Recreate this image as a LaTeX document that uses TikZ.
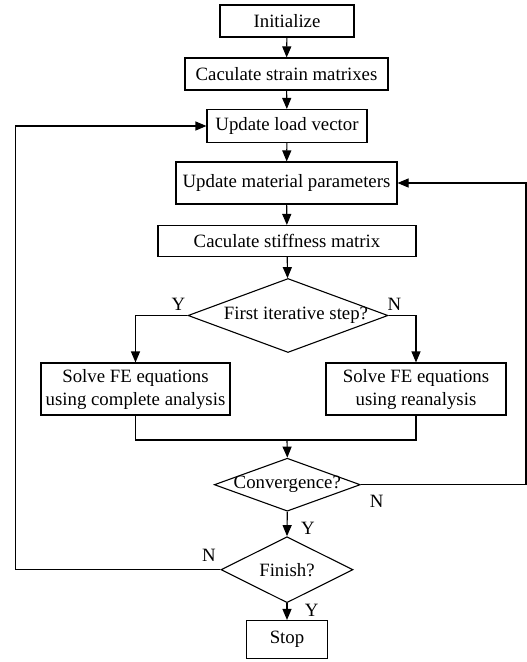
\documentclass[tikz,border=0pt]{standalone}
\usepackage{fontspec}
\setmainfont{Liberation Serif}
\usepackage{tikz}
\usetikzlibrary{shapes.geometric, arrows.meta}

\begin{document}
\begin{tikzpicture}[
        x=1pt, y=-1pt,
        font=\fontsize{18.8pt}{23pt}\selectfont,
        line width=1.1pt,
        box/.style={draw, inner sep=0pt, align=center},
        decide/.style={diamond, draw, inner sep=0pt},
        yn/.style={inner sep=0pt},
        flow/.style={-{Triangle[length=11pt, width=9pt]}},
      ]
        \useasboundingbox (0,0) rectangle (527,662);
        % main column
        \node[box, minimum width=134pt, minimum height=32pt] (init) at (287,21) {Initialize};
        \node[box, minimum width=203pt, minimum height=32pt] (strain) at (286.5,74) {Caculate strain matrixes};
        \node[box, minimum width=160pt, minimum height=33pt] (load) at (287,126) {Update load vector};
        \node[box, minimum width=221pt, minimum height=42pt] (mat) at (286.5,183) {Update material parameters};
        \node[box, minimum width=258pt, minimum height=31pt] (stiff) at (287,241) {Caculate stiffness matrix};
        \node[decide, minimum width=200pt, minimum height=74pt,
              label={[xshift=8pt]center:First iterative step?}] (first) at (288,315.5) {};
        % the two solvers
        \node[box, minimum width=189pt, minimum height=52pt] (full) at (135.5,389) {Solve FE equations\\using complete analysis};
        \node[box, minimum width=180pt, minimum height=52pt] (rean) at (416,389) {Solve FE equations\\using reanalysis};
        \coordinate (merge) at (287,440);
        \node[decide, minimum width=146pt, minimum height=53pt,
              label=center:Convergence?] (conv) at (287.3,484.7) {};
        \node[decide, minimum width=132pt, minimum height=66pt,
              label=center:Finish?] (fin) at (287,569.7) {};
        \node[box, minimum width=81pt, minimum height=38pt] (stop) at (287,639.5) {Stop};
        % loop corners
        \coordinate (rgt) at (526,484.7);
        \coordinate (lft) at (15.7,569.7);

        \draw[flow] (init) -- (strain);
        \draw[flow] (strain) -- (load);
        \draw[flow] (load) -- (mat);
        \draw[flow] (mat) -- (stiff);
        \draw[flow] (stiff) -- (first);
        \draw[flow] (first.west) -| (full.north);
        \draw[flow] (first.east) -| (rean.north);
        \draw (full.south) |- (merge) -| (rean.south);
        \draw[flow] (merge) -- (conv.north);
        \draw[flow] (conv.south) -- (fin.north);
        \draw[flow] (fin.south) -- (stop.north);
        \draw[flow] (conv.east) -- (rgt) |- (mat.east);
        \draw[flow] (fin.west) -- (lft) |- (load.west);

        % branch marks
        \node[yn] (y1) at (178.3,304) {Y};
        \node[yn] (n1) at (394.3,304) {N};
        \node[yn] (n2) at (376.7,501.7) {N};
        \node[yn] (y2) at (308,528) {Y};
        \node[yn] (n3) at (209,555) {N};
        \node[yn] (y3) at (311.7,610) {Y};
      \end{tikzpicture}
\end{document}
